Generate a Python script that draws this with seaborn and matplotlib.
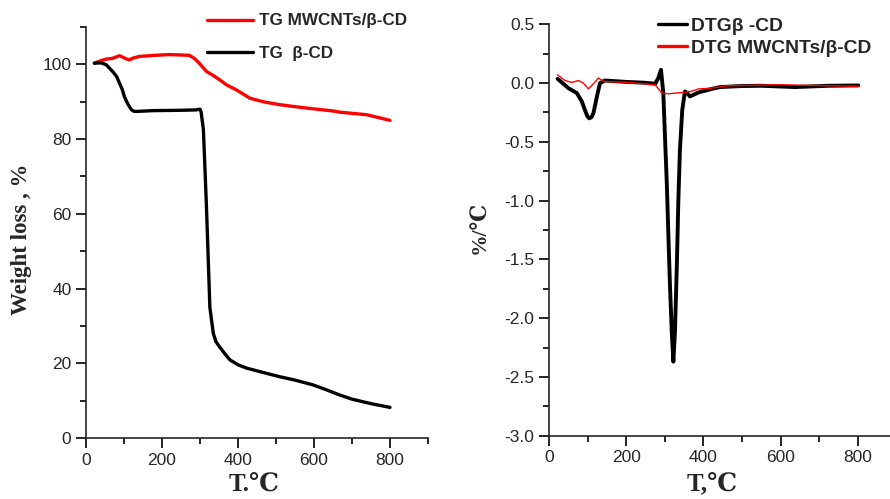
import numpy as np
import pandas as pd
import seaborn as sns
import matplotlib.pyplot as plt
from matplotlib.ticker import MultipleLocator
from matplotlib.lines import Line2D

# TG curves (temperature in C, weight %)
tg_cd_T = [22, 40, 53, 70, 81, 88, 95, 101, 107, 114, 120, 127, 135, 175, 250, 289, 300,
           303, 309, 317, 326, 335, 342, 350, 365, 379, 400, 423, 460, 510, 550, 598, 630,
           668, 700, 750, 800]
tg_cd_w = [100.3, 100.4, 99.9, 98.1, 96.7, 95.0, 93.4, 91.4, 90.0, 88.7, 87.8, 87.4, 87.4,
           87.6, 87.7, 87.8, 88.0, 87.2, 82.5, 62.0, 35.0, 28.0, 25.8, 24.6, 22.6, 20.9,
           19.6, 18.7, 17.7, 16.4, 15.5, 14.2, 13.0, 11.5, 10.4, 9.2, 8.2]

tg_mw_T = [22, 40, 53, 70, 88, 97, 105, 114, 125, 140, 180, 219, 250, 272, 285, 298, 317,
           335, 351, 370, 395, 432, 470, 510, 563, 598, 651, 668, 739, 800]
tg_mw_w = [100.3, 101.0, 101.4, 101.6, 102.3, 101.9, 101.5, 101.2, 101.7, 102.1, 102.4,
           102.6, 102.5, 102.4, 101.6, 100.3, 98.1, 97.0, 95.9, 94.5, 93.2, 90.9, 89.9,
           89.2, 88.5, 88.1, 87.5, 87.2, 86.5, 85.0]

# DTG curves (%/C)
dtg_cd_T = [22, 50, 72, 85, 93, 99, 104, 110, 115, 124, 132, 145, 200, 248, 275, 283, 290,
            296, 300, 305, 309, 313, 318, 322, 326, 331, 335, 339, 345, 352, 358, 365, 387,
            421, 443, 500, 550, 637, 723, 801]
dtg_cd_v = [0.037, -0.043, -0.085, -0.157, -0.23, -0.28, -0.30, -0.29, -0.256, -0.114,
            0.0, 0.022, 0.01, 0.003, -0.006, 0.043, 0.113, -0.085, -0.43, -0.85, -1.28,
            -1.70, -2.13, -2.37, -2.13, -1.56, -0.99, -0.57, -0.23, -0.071, -0.085, -0.114,
            -0.08, -0.05, -0.034, -0.025, -0.023, -0.034, -0.023, -0.02]

dtg_mw_T = [22, 41, 59, 76, 89, 102, 115, 128, 141, 205, 275, 292, 309, 344, 369, 387, 421,
            464, 594, 801]
dtg_mw_v = [0.07, 0.022, 0.005, 0.022, 0.0, -0.049, -0.006, 0.043, 0.014, 0.005, -0.014,
            -0.085, -0.091, -0.08, -0.07, -0.05, -0.043, -0.023, -0.014, -0.028]

sns.set_style("ticks")
plt.rcParams['font.family'] = ['Liberation Sans', 'DejaVu Sans']
plt.rcParams['axes.unicode_minus'] = False

fig = plt.figure(figsize=(8.9, 4.99), dpi=100)
ax1 = fig.add_axes([0.0966, 0.1222, 0.3843, 0.8238])
ax2 = fig.add_axes([0.6169, 0.1268, 0.3904, 0.8245])

sns.lineplot(x=tg_mw_T, y=tg_mw_w, ax=ax1, color='#ff0000', linewidth=2.4, estimator=None)
sns.lineplot(x=tg_cd_T, y=tg_cd_w, ax=ax1, color='black', linewidth=2.4, estimator=None)

sns.lineplot(x=dtg_cd_T, y=dtg_cd_v, ax=ax2, color='black', linewidth=2.8, estimator=None)
sns.lineplot(x=dtg_mw_T, y=dtg_mw_v, ax=ax2, color='#ff0000', linewidth=1.0, estimator=None)

ax1.set_xlim(0, 900)
ax1.set_ylim(0, 110)
ax1.xaxis.set_major_locator(MultipleLocator(200))
ax1.xaxis.set_minor_locator(MultipleLocator(100))
ax1.yaxis.set_major_locator(MultipleLocator(20))
ax1.yaxis.set_minor_locator(MultipleLocator(10))

ax2.set_xlim(0, 900)
ax2.set_ylim(-3.0, 0.5)
ax2.xaxis.set_major_locator(MultipleLocator(200))
ax2.xaxis.set_minor_locator(MultipleLocator(100))
ax2.yaxis.set_major_locator(MultipleLocator(0.5))
ax2.yaxis.set_minor_locator(MultipleLocator(0.25))
ax2.yaxis.set_major_formatter(plt.FormatStrFormatter('%.1f'))

for ax in (ax1, ax2):
    sns.despine(ax=ax)
    for s in ('left', 'bottom'):
        ax.spines[s].set_linewidth(1.2)
    ax.tick_params(which='major', length=7, width=1.2, labelsize=12.5, color='black')
    ax.tick_params(which='minor', length=4, width=1.2, color='black')
    ax.set_xlabel('')
    ax.set_ylabel('')

serif = ['Liberation Serif', 'DejaVu Serif', 'Noto Sans CJK SC']
fig.text(0.024, 0.521, 'Weight loss , %', rotation=90, ha='center', va='center',
         fontsize=16.5, fontweight='bold', family=serif)
fig.text(0.285, 0.028, 'T.℃', ha='center', va='center', fontsize=18,
         fontweight='bold', family=serif)
fig.text(0.54, 0.545, '%/℃', rotation=90, ha='center', va='center',
         fontsize=15.5, fontweight='bold', family=serif)
fig.text(0.8, 0.028, 'T,℃', ha='center', va='center', fontsize=18,
         fontweight='bold', family=serif)

h1 = [Line2D([], [], color='#ff0000', lw=2.4), Line2D([], [], color='black', lw=2.4)]
leg1 = ax1.legend(h1, ['TG MWCNTs/β-CD', 'TG  β-CD'], loc='upper left',
                  bbox_to_anchor=(0.3125, 1.066), frameon=False, handlelength=2.7,
                  handletextpad=0.4, labelspacing=1.0, borderpad=0.3,
                  prop={'weight': 'bold', 'size': 12.3})

h2 = [Line2D([], [], color='black', lw=2.4), Line2D([], [], color='#ff0000', lw=2.4)]
leg2 = ax2.legend(h2, ['DTGβ -CD', 'DTG MWCNTs/β-CD'], loc='upper left',
                  bbox_to_anchor=(0.27, 1.055), frameon=False, handlelength=1.5,
                  handletextpad=0.2, labelspacing=0.26, borderpad=0.3,
                  prop={'weight': 'bold', 'size': 13.9})

fig.savefig('out.png', dpi=100)
